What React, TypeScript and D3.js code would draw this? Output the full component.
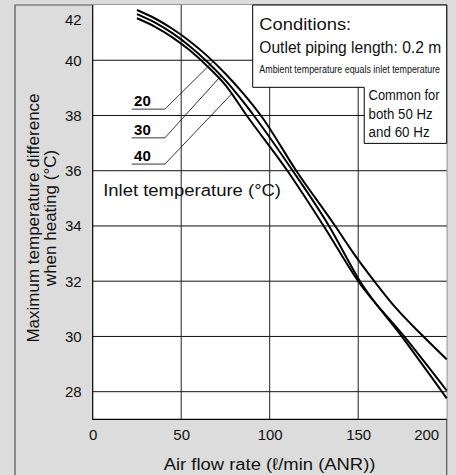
import React, { useEffect, useRef } from 'react'
import * as d3 from 'd3'

// inlet temperature curves (°C)
const inletTemps = ['20', '30', '40']

const flow20 = [25, 35, 45, 55, 65, 75, 85, 95, 115, 137, 147.5, 158.5, 171, 186, 200]
const diff20 = [41.82, 41.52, 41.14, 40.68, 40.14, 39.51, 38.8, 38.0, 36, 34, 33, 32.05, 31.05, 30.05, 29.17]

const flow30 = [25, 35, 45, 55, 65, 75, 85, 91, 113, 133.5, 151, 174.6, 200]
const diff30 = [41.67, 41.37, 40.98, 40.5, 39.93, 39.27, 38.5, 38.0, 36, 34, 32, 30, 27.76]

const flow40 = [25, 35, 45, 55, 65, 75, 87, 110, 130.5, 150, 176, 200]
const diff40 = [41.52, 41.22, 40.83, 40.35, 39.77, 39.1, 38.0, 36, 34, 32, 30, 28.04]

const xTicks = [0, 50, 100, 150, 200]
const yTicks = [28, 30, 32, 34, 36, 38, 40, 42]

// where the leader of each label touches its curve (flow rate)
const leaderFlow = [68, 72.5, 78.5]
// label underline level (°C) in chart units
const labelLevel = [38.23, 37.19, 36.24]

const FONT = '"Liberation Sans", Arial, Helvetica, sans-serif'

const App = () => {
    const chartRef = useRef<SVGSVGElement | null>(null)

    useEffect(() => {
        const W = 456
        const H = 475
        const margin = { top: 5, right: 9.3, bottom: 55.7, left: 92.7 }
        const width = W - margin.left - margin.right
        const height = H - margin.top - margin.bottom

        const root = d3.select(chartRef.current)
        root.selectAll('*').remove()

        // grey page + frame
        root.append('rect').attr('width', W).attr('height', H).attr('fill', '#dcdcdc')
        root.append('path')
            .attr('d', `M15,${H} V${margin.top} H${margin.left + width} V${H}`)
            .attr('fill', 'none')
            .attr('stroke', '#555')
            .attr('stroke-width', 1.2)

        const svg = root.append('g').attr('transform', `translate(${margin.left},${margin.top})`)

        const x = d3.scaleLinear().domain([0, 200]).range([0, width])
        const y = d3.scaleLinear().domain([27, 42]).range([height, 0])

        svg.append('rect').attr('width', width).attr('height', height).attr('fill', '#fff')

        // grid
        svg.selectAll('.hgrid')
            .data(yTicks.filter(d => d < 42))
            .enter()
            .append('line')
            .attr('x1', 0).attr('x2', width)
            .attr('y1', d => y(d)).attr('y2', d => y(d))
            .attr('stroke', '#111').attr('stroke-width', 1)

        svg.selectAll('.vgrid')
            .data(xTicks.filter(d => d > 0 && d < 200))
            .enter()
            .append('line')
            .attr('x1', d => x(d)).attr('x2', d => x(d))
            .attr('y1', 0).attr('y2', height)
            .attr('stroke', '#222').attr('stroke-width', 1)

        // plot border (left + bottom)
        svg.append('path')
            .attr('d', `M0,0 V${height} H${width}`)
            .attr('fill', 'none').attr('stroke', '#000').attr('stroke-width', 1.2)

        // axes (labels only)
        const xAxis = svg.append('g')
            .attr('transform', `translate(0,${height})`)
            .call(d3.axisBottom(x).tickValues(xTicks).tickSize(0).tickPadding(10))
        const yAxis = svg.append('g')
            .call(d3.axisLeft(y).tickValues(yTicks).tickSize(0).tickPadding(11))

        for (const ax of [xAxis, yAxis]) {
            ax.select('.domain').remove()
            ax.selectAll('text')
                .attr('font-family', FONT)
                .attr('font-size', 15)
                .attr('fill', '#111')
        }
        xAxis.selectAll<SVGTextElement, number>('text')
            .filter(d => d === 200)
            .attr('text-anchor', 'end')
            .attr('x', -8)
        yAxis.selectAll<SVGTextElement, number>('text')
            .filter(d => d === 42)
            .attr('y', 15)

        // curves
        const series = [
            { xs: flow20, ys: diff20 },
            { xs: flow30, ys: diff30 },
            { xs: flow40, ys: diff40 }
        ]
        const line = d3.line<[number, number]>()
            .x(d => x(d[0]))
            .y(d => y(d[1]))
            .curve(d3.curveMonotoneX)

        series.forEach(s => {
            svg.append('path')
                .datum(d3.zip(s.xs, s.ys) as [number, number][])
                .attr('fill', 'none')
                .attr('stroke', '#000')
                .attr('stroke-width', 2)
                .attr('d', line)
        })

        // inlet temperature labels with leaders
        series.forEach((s, i) => {
            const onCurve = d3.scaleLinear().domain(s.xs).range(s.ys)
            const fx = leaderFlow[i]
            const ly = y(labelLevel[i])
            svg.append('path')
                .attr('d', `M${x(22)},${ly} H${x(40.8)} L${x(fx)},${y(onCurve(fx))}`)
                .attr('fill', 'none')
                .attr('stroke', '#000')
                .attr('stroke-width', 0.8)
            svg.append('text')
                .attr('x', x(23.4))
                .attr('y', ly - 3)
                .attr('font-family', FONT)
                .attr('font-size', 15)
                .attr('font-weight', 'bold')
                .text(inletTemps[i])
        })

        // text squeezed horizontally to a given width (catalogue uses a narrow face)
        const fitText = (parent: d3.Selection<SVGGElement, unknown, null, undefined>,
            tx: number, ty: number, size: number, len: number, t: string) => {
            const g = parent.append('g')
            const el = g.append('text')
                .attr('font-family', FONT)
                .attr('font-size', size)
                .attr('fill', '#111')
                .text(t)
            const natural = (el.node() as SVGTextElement).getComputedTextLength() || len
            g.attr('transform', `translate(${tx},${ty}) scale(${len / natural},1)`)
            return el
        }

        fitText(svg, x(5.9), y(35.08), 17, 178, 'Inlet temperature (°C)')

        // conditions box
        const bx0 = x(90.4)
        const bx1 = x(200)
        const bxn = x(153.4)
        const by0 = y(42)
        const by1 = y(39.02)
        const by2 = y(36.99)
        svg.append('path')
            .attr('d', `M${bx0},${by0} H${bx1} V${by2} H${bxn} V${by1} H${bx0} Z`)
            .attr('fill', '#fff')
            .attr('stroke', '#000')
            .attr('stroke-width', 1)

        fitText(svg, bx0 + 6.6, 24.5, 17, 92, 'Conditions:')
        fitText(svg, bx0 + 6.6, 47.5, 17, 182, 'Outlet piping length: 0.2 m')
        fitText(svg, bx0 + 6.6, 67.5, 11.5, 181, 'Ambient temperature equals inlet temperature')
        fitText(svg, bxn + 4.4, 95, 15.5, 71, 'Common for')
        fitText(svg, bxn + 4.4, 113.5, 15.5, 64, 'both 50 Hz')
        fitText(svg, bxn + 4.4, 132, 15.5, 61, 'and 60 Hz')

        // axis titles
        fitText(root as any, margin.left + x(100) - 106, 470, 17, 212, 'Air flow rate (ℓ/min (ANR))')

        const yt = root.append('text')
            .attr('transform', 'translate(0,218) rotate(-90)')
            .attr('text-anchor', 'middle')
            .attr('font-family', FONT)
            .attr('font-size', 17)
            .attr('fill', '#111')
        yt.append('tspan').attr('x', 0).attr('y', 39).text('Maximum temperature difference')
        yt.append('tspan').attr('x', 0).attr('y', 56).text('when heating (°C)')
    }, [])

    return (
        <div>
            <style>{'body{margin:0}'}</style>
            <svg ref={chartRef} width={456} height={475} style={{ display: 'block' }} />
        </div>
    )
}

export default App
